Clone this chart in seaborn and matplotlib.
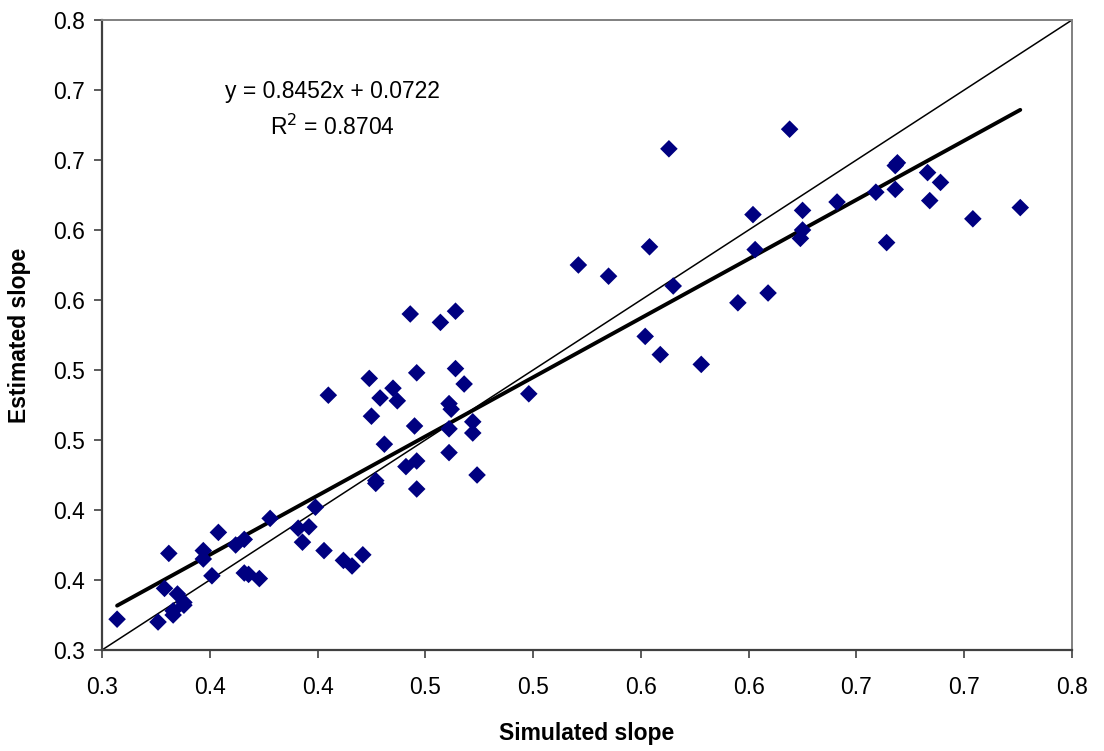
import numpy as np
import pandas as pd
import matplotlib
matplotlib.use("Agg")
import matplotlib.pyplot as plt
import seaborn as sns

# ---------------- data ----------------
simulated = [
    0.307, 0.326, 0.329, 0.331, 0.335, 0.333, 0.333, 0.338, 0.338, 0.347,
    0.347, 0.351, 0.354, 0.362, 0.366, 0.366, 0.368, 0.373, 0.378, 0.391,
    0.396, 0.393, 0.399, 0.403, 0.412, 0.416, 0.421, 0.427, 0.427, 0.441,
    0.446, 0.446, 0.431, 0.405, 0.424, 0.429, 0.425, 0.435, 0.437, 0.443,
    0.446, 0.445, 0.457, 0.464, 0.464, 0.468, 0.461, 0.462, 0.461, 0.461,
    0.472, 0.472, 0.474, 0.498, 0.521, 0.535, 0.554, 0.563, 0.565, 0.552,
    0.559, 0.578, 0.595, 0.609, 0.602, 0.603, 0.619, 0.625, 0.625, 0.624,
    0.641, 0.659, 0.664, 0.668, 0.669, 0.668, 0.683, 0.684, 0.689, 0.704,
    0.726,
]
estimated = [
    0.322, 0.320, 0.344, 0.369, 0.340, 0.328, 0.325, 0.334, 0.332, 0.371,
    0.365, 0.353, 0.384, 0.375, 0.379, 0.355, 0.354, 0.351, 0.394, 0.387,
    0.388, 0.377, 0.402, 0.371, 0.364, 0.360, 0.368, 0.421, 0.419, 0.431,
    0.435, 0.415, 0.447, 0.482, 0.494, 0.480, 0.467, 0.487, 0.478, 0.540,
    0.498, 0.460, 0.534, 0.542, 0.501, 0.490, 0.476, 0.472, 0.458, 0.441,
    0.463, 0.455, 0.425, 0.483, 0.575, 0.567, 0.588, 0.658, 0.560, 0.524,
    0.511, 0.504, 0.548, 0.555, 0.611, 0.586, 0.672, 0.614, 0.600, 0.594,
    0.620, 0.627, 0.591, 0.646, 0.648, 0.629, 0.641, 0.621, 0.634, 0.608,
    0.616,
]
tick_values = [0.30, 0.35, 0.40, 0.45, 0.50, 0.55, 0.60, 0.65, 0.70, 0.75]
tick_labels = ["0.3", "0.4", "0.4", "0.5", "0.5", "0.6", "0.6", "0.7", "0.7", "0.8"]
trend_slope = 0.8452
trend_intercept = 0.0722
r_squared = 0.8704

df = pd.DataFrame({"Simulated slope": simulated, "Estimated slope": estimated})

# ---------------- style ----------------
sns.set_theme(style="white")
plt.rcParams["font.family"] = ["Liberation Sans", "DejaVu Sans"]
plt.rcParams["text.color"] = "black"
plt.rcParams["axes.labelcolor"] = "black"
plt.rcParams["xtick.color"] = "black"
plt.rcParams["ytick.color"] = "black"

fig = plt.figure(figsize=(11.04, 7.51), dpi=100)
ax = fig.add_axes([102 / 1104, 1 - 650 / 751, 970 / 1104, 630 / 751])

# 1:1 line
lo, hi = tick_values[0], tick_values[-1]
ax.plot([lo, hi], [lo, hi], color="black", lw=1.1, zorder=2)

# trend line over the data range
xs = np.array([min(simulated), max(simulated)])
ax.plot(xs, trend_slope * xs + trend_intercept, color="black", lw=2.8,
        solid_capstyle="round", zorder=3)

sns.scatterplot(data=df, x="Simulated slope", y="Estimated slope", ax=ax,
                marker="D", s=80, color="#000080", edgecolor="none",
                linewidth=0, zorder=4)

ax.set_xlim(lo, hi)
ax.set_ylim(lo, hi)
ax.set_xticks(tick_values)
ax.set_xticklabels(tick_labels)
ax.set_yticks(tick_values)
ax.set_yticklabels(tick_labels)
ax.tick_params(axis="both", which="major", direction="out", length=6,
               width=1.2, color="#404040", labelsize=16.5, labelcolor="black",
               bottom=True, left=True, top=False, right=False)
ax.tick_params(axis="x", pad=13)
ax.tick_params(axis="y", pad=6)

for side in ["left", "bottom"]:
    ax.spines[side].set_color("#404040")
    ax.spines[side].set_linewidth(1.6)
for side in ["top", "right"]:
    ax.spines[side].set_color("#808080")
    ax.spines[side].set_linewidth(1.4)

ax.set_xlabel("Simulated slope", fontsize=16.5, fontweight="bold", labelpad=16,
              color="black")
ax.set_ylabel("Estimated slope", fontsize=16.5, fontweight="bold", labelpad=16,
              color="black")

ax.text(0.238, 0.886, f"y = {trend_slope:.4f}x + {trend_intercept:.4f}",
        transform=ax.transAxes, ha="center", va="center", fontsize=16.5,
        color="black")
ax.text(0.238, 0.829, f"R$^2$ = {r_squared:.4f}",
        transform=ax.transAxes, ha="center", va="center", fontsize=16.5,
        color="black")

fig.savefig("out.png", dpi=100)
